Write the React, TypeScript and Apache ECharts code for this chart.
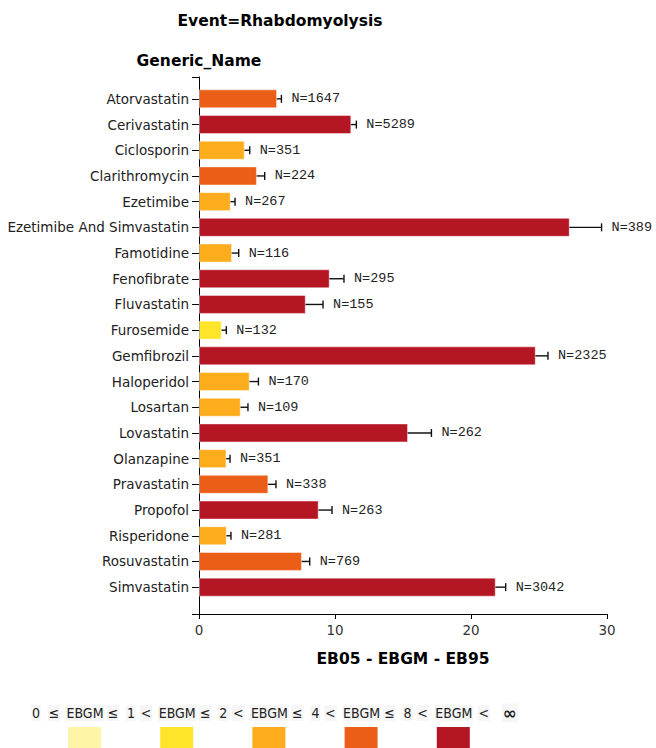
import React, { useEffect, useRef } from "react";
import * as echarts from "echarts";

const drugs = [
  "Atorvastatin", "Cerivastatin", "Ciclosporin", "Clarithromycin", "Ezetimibe",
  "Ezetimibe And Simvastatin", "Famotidine", "Fenofibrate", "Fluvastatin", "Furosemide",
  "Gemfibrozil", "Haloperidol", "Losartan", "Lovastatin", "Olanzapine",
  "Pravastatin", "Propofol", "Risperidone", "Rosuvastatin", "Simvastatin",
];
const ebgm = [5.74, 11.2, 3.36, 4.26, 2.33, 27.26, 2.43, 9.61, 7.85, 1.67, 24.76, 3.73, 3.07, 15.37, 2.02, 5.1, 8.8, 2.04, 7.57, 21.82];
const eb05 = [5.59, 10.96, 3.09, 3.85, 2.11, 25.1, 2.11, 8.8, 6.94, 1.47, 24.02, 3.31, 2.68, 13.93, 1.85, 4.68, 7.94, 1.91, 7.18, 21.23];
const eb95 = [6.06, 11.57, 3.73, 4.83, 2.65, 29.6, 2.92, 10.66, 9.12, 2.01, 25.66, 4.37, 3.6, 17.09, 2.28, 5.66, 9.78, 2.35, 8.14, 22.55];
const nCases = [1647, 5289, 351, 224, 267, 389, 116, 295, 155, 132, 2325, 170, 109, 262, 351, 338, 263, 281, 769, 3042];
// EBGM class shown by each bar's colour (0: 0-1, 1: 1-2, 2: 2-4, 3: 4-8, 4: >8)
const ebgmClass = [3, 4, 2, 3, 2, 4, 2, 4, 4, 1, 4, 2, 2, 4, 2, 3, 4, 2, 3, 4];
const classBounds = ["0", "1", "2", "4", "8", "∞"];
const classColors = ["#FFF5A6", "#FFE52A", "#FDAC1C", "#EA5E18", "#B51623"];
const xTickMax = 30;
const xTickStep = 10;

const boldFont = "bold 15.5px 'DejaVu Sans'";

export default function App() {
  const ref = useRef<HTMLDivElement>(null);
  useEffect(() => {
    if (!ref.current) return;
    const chart = echarts.init(ref.current, null, { renderer: "svg" });

    const legendEls: any[] = [];
    const c0 = 85;
    const step = 92.2;
    const ty = 713;
    const tokStyle = (text: string, x: number, big = false) => ({
      type: "text",
      x,
      y: ty,
      style: {
        text,
        align: "center",
        verticalAlign: "middle",
        font: big ? "bold 17px 'DejaVu Sans'" : "14px 'DejaVu Sans Condensed', 'DejaVu Sans'",
        fill: "#222",
        backgroundColor: "#f6f6f6",
        padding: [1, 1],
      },
    });
    legendEls.push(tokStyle(classBounds[0], c0 - 49));
    legendEls.push(tokStyle("≤", c0 - 31));
    classColors.forEach((col, i) => {
      const c = c0 + step * i;
      legendEls.push(tokStyle("EBGM", c));
      if (i < classColors.length - 1) {
        legendEls.push(tokStyle("≤", c + 28));
        legendEls.push(tokStyle(classBounds[i + 1], c + 46));
        legendEls.push(tokStyle("<", c + 61));
      } else {
        legendEls.push(tokStyle("<", c + 30));
        legendEls.push(tokStyle(classBounds[i + 1], c + 56, true));
      }
      legendEls.push({
        type: "rect",
        shape: { x: c - 17, y: 727, width: 33, height: 22 },
        style: { fill: col },
      });
    });

    const errData = drugs.map((d, i) => [eb05[i], eb95[i], i, nCases[i]]);

    chart.setOption({
      animation: false,
      graphic: [
        {
          type: "text",
          x: 280,
          y: 21,
          style: { text: "Event=Rhabdomyolysis", align: "center", verticalAlign: "middle", font: boldFont, fill: "#000" },
        },
        ...legendEls,
      ],
      grid: [
        { left: 199, right: 49, top: 86, height: 514 },
        { left: 199, right: 49, top: 77, height: 537 },
      ],
      xAxis: [
        { gridIndex: 0, type: "value", min: 0, max: xTickMax, show: false },
        {
          gridIndex: 1,
          type: "value",
          min: 0,
          max: xTickMax,
          interval: xTickStep,
          axisLine: { show: true, lineStyle: { color: "#000", width: 1 } },
          axisTick: { show: true, length: 5, lineStyle: { color: "#000" } },
          axisLabel: { margin: 9, fontSize: 13.5, fontFamily: "DejaVu Sans", color: "#333" },
          splitLine: { show: false },
          name: "EB05 - EBGM - EB95",
          nameLocation: "middle",
          nameGap: 37,
          nameTextStyle: { fontSize: 15.5, fontWeight: "bold", fontFamily: "DejaVu Sans", color: "#000" },
        },
      ],
      yAxis: [
        {
          gridIndex: 0,
          type: "category",
          data: drugs,
          inverse: true,
          axisLine: { show: false },
          axisTick: { show: true, alignWithLabel: true, length: 7, lineStyle: { color: "#000" } },
          axisLabel: { margin: 10, fontSize: 13.5, fontFamily: "DejaVu Sans", color: "#222" },
          splitLine: { show: false },
        },
        {
          gridIndex: 1,
          type: "value",
          min: 0,
          max: 1,
          interval: 1,
          axisLine: { show: true, lineStyle: { color: "#000", width: 1 } },
          axisTick: { show: true, length: 7, lineStyle: { color: "#000" } },
          axisLabel: { show: false },
          splitLine: { show: false },
          name: "Generic_Name",
          nameLocation: "end",
          nameGap: 8,
          nameTextStyle: { fontSize: 15.5, fontWeight: "bold", fontFamily: "DejaVu Sans", color: "#000" },
        },
      ],
      series: [
        {
          type: "bar",
          xAxisIndex: 0,
          yAxisIndex: 0,
          barWidth: 19,
          data: ebgm.map((v, i) => ({
            value: v,
            itemStyle: {
              color: classColors[ebgmClass[i]],
              borderColor: "rgba(255,255,255,0.45)",
              borderWidth: 1,
            },
          })),
        },
        {
          type: "custom",
          xAxisIndex: 0,
          yAxisIndex: 0,
          data: errData,
          encode: { x: [0, 1], y: 2 },
          renderItem: (params: any, api: any) => {
            const lo = api.coord([api.value(0), api.value(2)]);
            const hi = api.coord([api.value(1), api.value(2)]);
            const y = lo[1];
            const h = 4;
            const ls = { stroke: "#111", lineWidth: 1.4 };
            return {
              type: "group",
              children: [
                { type: "line", shape: { x1: lo[0], y1: y, x2: hi[0], y2: y }, style: ls },
                { type: "line", shape: { x1: lo[0], y1: y - h, x2: lo[0], y2: y + h }, style: ls },
                { type: "line", shape: { x1: hi[0], y1: y - h, x2: hi[0], y2: y + h }, style: ls },
                {
                  type: "text",
                  x: hi[0] + 10,
                  y,
                  style: {
                    text: "N=" + api.value(3),
                    align: "left",
                    verticalAlign: "middle",
                    font: "13.5px 'Liberation Mono'",
                    fill: "#222",
                  },
                },
              ],
            };
          },
        },
      ],
    });
    return () => chart.dispose();
  }, []);
  return (
    <div
      ref={ref}
      style={{ position: "fixed", left: 0, top: 0, width: 656, height: 748, background: "#fff" }}
    />
  );
}
